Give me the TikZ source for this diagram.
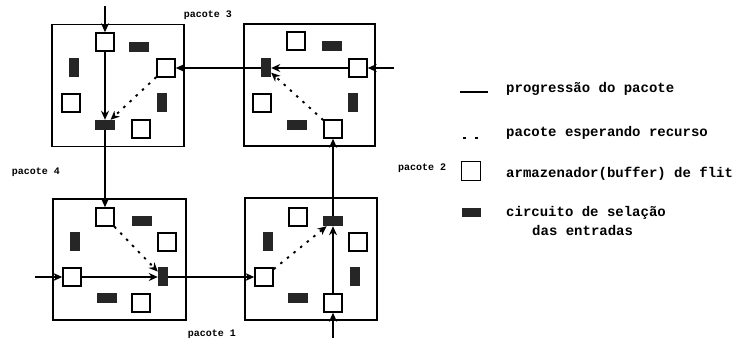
\documentclass[tikz,border=0pt]{standalone}
\usepackage{fontspec}
\setmainfont{Liberation Mono}
\usetikzlibrary{arrows.meta}
\begin{document}
\begin{tikzpicture}[x=1pt,y=-1pt,
 router/.style={draw, line width=1.7pt, minimum width=132pt, minimum height=122pt, inner sep=0},
 buf/.style={draw, line width=1.5pt, fill=white, minimum size=18pt, inner sep=0},
 selh/.style={fill=black!85, minimum width=20pt, minimum height=10pt, inner sep=0},
 selv/.style={fill=black!85, minimum width=10pt, minimum height=19pt, inner sep=0},
 flow/.style={line width=1.4pt, -{Stealth[length=9pt,width=8pt]}},
 wait/.style={line width=1.9pt, dash pattern=on 2.5pt off 6pt, -{Stealth[length=9pt,width=8pt]}},
 lbl/.style={font=\bfseries\fontsize{10}{12}\selectfont, inner sep=0},
 leg/.style={font=\bfseries\fontsize{14}{16}\selectfont, anchor=west, inner sep=0}]
\useasboundingbox (0,0) rectangle (738,344);
% routers
\node[router] (rTL) at (118,85.5) {};
\node[router, minimum width=131pt, minimum height=122pt] (rTR) at (309.5,85) {};
\node[router, minimum width=133pt, minimum height=121pt] (rBL) at (119.5,259.5) {};
\node[router, minimum height=122pt] (rBR) at (311,259) {};
% TL contents
\node[buf] (tl1) at (105,42) {};
\node[selh] (tl2) at (139,47) {};
\node[selv] (tl3) at (74,68) {};
\node[buf] (tl4) at (166,68) {};
\node[buf] (tl5) at (71,103) {};
\node[selv] (tl6) at (162,103) {};
\node[selh] (tl7) at (105,125) {};
\node[buf] (tl8) at (141,129) {};
% TR contents
\node[buf] (tr1) at (296,41) {};
\node[selh] (tr2) at (332,46) {};
\node[selv] (tr3) at (266,68) {};
\node[buf] (tr4) at (358,68) {};
\node[buf] (tr5) at (262,103) {};
\node[selv] (tr6) at (353,103) {};
\node[selh] (tr7) at (297,125) {};
\node[buf] (tr8) at (333,129) {};
% BL contents
\node[buf] (bl1) at (105,217) {};
\node[selh] (bl2) at (142,221) {};
\node[selv] (bl3) at (75,242) {};
\node[buf] (bl4) at (167,242) {};
\node[buf] (bl5) at (72,277) {};
\node[selv] (bl6) at (163,277) {};
\node[selh] (bl7) at (107,298) {};
\node[buf] (bl8) at (141,303) {};
% BR contents
\node[buf] (br1) at (298,217) {};
\node[selh] (br2) at (333,221) {};
\node[selv] (br3) at (268,242) {};
\node[buf] (br4) at (358,242) {};
\node[buf] (br5) at (264,277) {};
\node[selv] (br6) at (355,277) {};
\node[selh] (br7) at (298,298) {};
\node[buf] (br8) at (333,303) {};
% free ends
\coordinate (inTL) at (105,6);
\coordinate (inTR) at (394,68);
\coordinate (inBL) at (35,277);
\coordinate (inBR) at (333,338);
% packet progress
\draw[flow] (inTL) -- (tl1);
\draw[flow] (tl1) -- (tl7);
\draw[flow] (tl7) -- (bl1);
\draw[flow] (inTR) -- (tr4);
\draw[flow] (tr4) -- (tr3);
\draw[flow] (tr3) -- (tl4);
\draw[flow] (inBL) -- (bl5);
\draw[flow] (bl5) -- (bl6);
\draw[flow] (bl6) -- (br5);
\draw[flow] (inBR) -- (br8);
\draw[flow] (br8) -- (br2);
\draw[flow] (br2) -- (tr8);
% waiting
\draw[wait] (tl4) -- (tl7);
\draw[wait] (tr8) -- (tr3);
\draw[wait] (bl1) -- (bl6);
\draw[wait] (br5) -- (br2);
% packet labels
\node[lbl] (p3) at (208,15) {pacote 3};
\node[lbl] (p4) at (36,172) {pacote 4};
\node[lbl] (p2) at (422,168) {pacote 2};
\node[lbl] (p1) at (212,334) {pacote 1};
% legend
\coordinate (l1a) at (460,92);
\coordinate (l1b) at (488,92);
\draw[line width=1.7pt] (l1a) -- (l1b);
\coordinate (l2a) at (463,138);
\coordinate (l2b) at (478,138);
\draw[line width=1.9pt, dash pattern=on 3pt off 9pt] (l2a) -- (l2b);
\node[buf, minimum size=19pt] (lbuf) at (471,171) {};
\node[selh, minimum width=19pt, minimum height=9pt] (lsel) at (471,213) {};
\node[leg] (t1) at (506,89) {progressão do pacote};
\node[leg] (t2) at (506,133) {pacote esperando recurso};
\node[leg] (t3) at (506,174) {armazenador(buffer) de flit};
\node[leg] (t4) at (506,213) {circuito de selação};
\node[leg] (t5) at (532,230) {das entradas};
\end{tikzpicture}
\end{document}
